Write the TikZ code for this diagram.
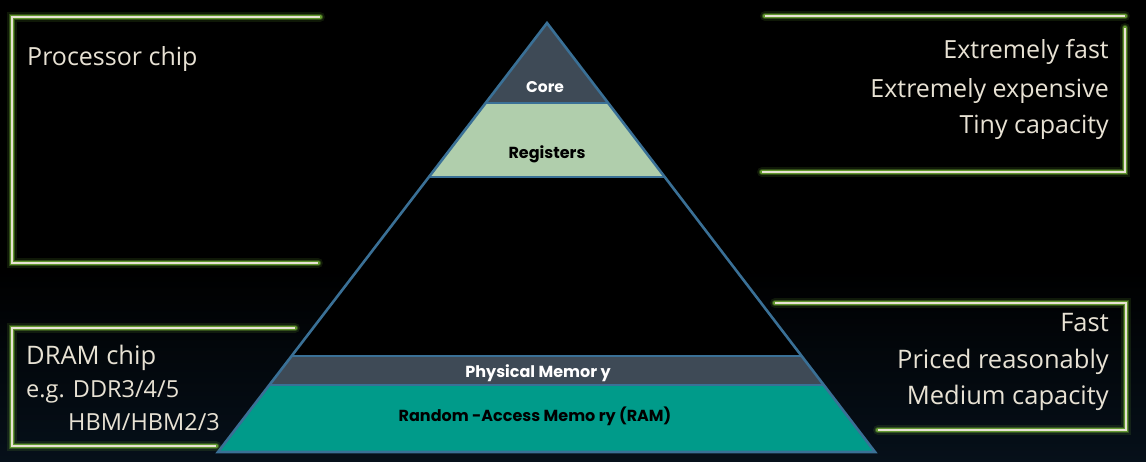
\documentclass[tikz,border=0pt]{standalone}
\usepackage{fontspec}
\setmainfont{Open Sans}
\newfontfamily\labfont{Poppins}
\usetikzlibrary{calc}
\definecolor{cream}{RGB}{232,226,212}
\definecolor{glowgreen}{RGB}{130,200,60}
\definecolor{edgeblue}{RGB}{58,112,150}
\definecolor{slate}{RGB}{62,74,86}
\definecolor{sage}{RGB}{176,206,172}
\definecolor{teal}{RGB}{0,155,138}
\definecolor{navy}{RGB}{6,16,26}
\tikzset{
  glowline/.style={
    preaction={draw=glowgreen,line width=10pt,opacity=0.12,line cap=round},
    preaction={draw=glowgreen,line width=6.5pt,opacity=0.3,line cap=round},
    preaction={draw=glowgreen,line width=4.5pt,opacity=0.6,line cap=round},
    draw=cream,line width=2.6pt},
  sidetext/.style={text=cream,font=\fontsize{25}{36}\selectfont,inner sep=0pt},
  bandtext/.style={font=\labfont\bfseries\fontsize{16}{18}\selectfont,inner sep=0pt},
  edge/.style={draw=edgeblue,line width=2.6pt,line join=miter}
}
\begin{document}
\begin{tikzpicture}[x=1pt,y=-1pt]
\useasboundingbox (0,0) rectangle (1146,462);
\fill[black] (0,0) rectangle (1146,462);
\shade[top color=black,bottom color=navy] (0,270) rectangle (1146,462);

% pyramid geometry
\coordinate (apex) at (547,23);
\coordinate (bl) at (218,452);
\coordinate (br) at (875,452);
\coordinate (l1) at ($(apex)!0.1865!(bl)$);
\coordinate (r1) at ($(apex)!0.1865!(br)$);
\coordinate (l2) at ($(apex)!0.359!(bl)$);
\coordinate (r2) at ($(apex)!0.359!(br)$);
\coordinate (l3) at ($(apex)!0.776!(bl)$);
\coordinate (r3) at ($(apex)!0.776!(br)$);
\coordinate (l4) at ($(apex)!0.8438!(bl)$);
\coordinate (r4) at ($(apex)!0.8438!(br)$);

\fill[black] (apex) -- (bl) -- (br) -- cycle;
\fill[slate] (apex) -- (l1) -- (r1) -- cycle;
\fill[sage] (l1) -- (l2) -- (r2) -- (r1) -- cycle;
\fill[slate] (l3) -- (l4) -- (r4) -- (r3) -- cycle;
\fill[teal] (l4) -- (bl) -- (br) -- (r4) -- cycle;
\draw[edge] (l1) -- (r1);
\draw[edge] (l2) -- (r2);
\draw[edge] (l3) -- (r3);
\draw[edge] (l4) -- (r4);
\draw[edge] (apex) -- (bl) -- (br) -- cycle;

\node[bandtext,text=white,font=\labfont\bfseries\fontsize{15.5}{18}\selectfont] (core) at (545,87) {Core};
\node[bandtext,text=black] (regs) at (547,154) {Registers};
\node[bandtext,text=white] (phys) at (538,373) {Physical Memor y};
\node[bandtext,text=black] (ram) at (535,416) {Random -Access Memo ry (RAM)};

% brackets
\draw[glowline] (320,17) -- (12,17) -- (12,263) -- (318,263);
\draw[glowline] (765,16) -- (1125,16);
\draw[glowline] (1125,28) -- (1125,172) -- (762,172);
\draw[glowline] (295,328) -- (12,328) -- (12,446) -- (216,446);
\draw[glowline] (775,303) -- (1126,303) -- (1126,430) -- (878,430);

% texts
\node[sidetext,anchor=base west] (proc) at (27,66) {Processor chip};
\node[sidetext,anchor=base east] (f1) at (1109,59) {Extremely fast};
\node[sidetext,anchor=base east] (f2) at (1109,98) {Extremely expensive};
\node[sidetext,anchor=base east] (f3) at (1109,134) {Tiny capacity};
\node[sidetext,anchor=base east,font=\fontsize{25.5}{36}\selectfont] (m1) at (1109,332) {Fast};
\node[sidetext,anchor=base east,font=\fontsize{25.5}{36}\selectfont] (m2) at (1109,368) {Priced reasonably};
\node[sidetext,anchor=base east,font=\fontsize{25.5}{36}\selectfont] (m3) at (1109,404) {Medium capacity};
\node[sidetext,anchor=base west,font=\fontsize{25.5}{28}\selectfont] (dram) at (26,364) {DRAM chip};
\node[sidetext,anchor=base west,font=\fontsize{23.5}{26}\selectfont] (ddr) at (26,397) {e.g. DDR3/4/5};
\node[sidetext,anchor=base west,font=\fontsize{23.5}{26}\selectfont] (hbm) at (68,430) {HBM/HBM2/3};
\end{tikzpicture}
\end{document}
